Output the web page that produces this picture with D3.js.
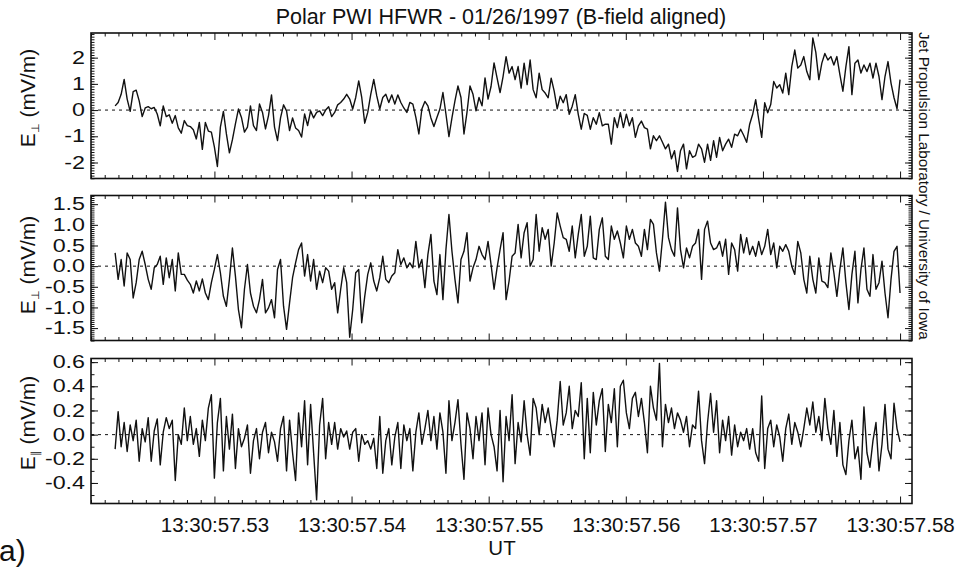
<!DOCTYPE html>
<html lang="en">
<head>
<meta charset="UTF-8">
<title>Polar PWI HFWR</title>
<style>
    body { margin: 0; background: #fff; }
    svg text { font-family: "Liberation Sans", Arial, Helvetica, sans-serif; fill: #111; }
    .frame { fill: none; stroke: #111; stroke-width: 1.6; }
    .axis line { stroke: #111; stroke-width: 1; }
    .axis .domain { display: none; }
    .trace { fill: none; stroke: #111; stroke-width: 1.4; stroke-linejoin: round; }
    .zero { stroke: #111; stroke-width: 1; stroke-dasharray: 3,4; }
</style>
</head>
<body>
<div class="g-chart-container"></div>
<script src="https://d3js.org/d3.v7.min.js"></script>
<script>
// time axis: milliseconds after 13:30:57.520 UT, one sample every tStep ms
var tStart = 2.76,
    tStep = 0.2193;

var xTickVals = [10, 20, 30, 40, 50, 60];
var xTickLabels = ["13:30:57.53", "13:30:57.54", "13:30:57.55", "13:30:57.56", "13:30:57.57", "13:30:57.58"];

// E perp (first), mV/m
var p1Values = [
    0.16, 0.29, 0.60, 1.17, 0.42, -0.05, 0.70, 0.76, 0.35, -0.25,
    0.08, 0.13, 0.05, 0.10, -0.15, -0.60, 0.16, -0.25, -0.18, -0.50,
    -0.21, -0.68, -0.88, -0.40, -0.59, -0.63, -0.75, -1.10, -0.47, -1.50,
    -0.47, -0.80, -0.84, -1.40, -2.15, -0.65, -0.05, -0.91, -1.63, -1.13,
    -0.53, 0.04, -0.28, -0.84, -0.65, 0.16, -0.59, -0.78, 0.23, -0.09,
    -0.72, -0.21, 0.58, -0.65, -1.16, -0.30, 0.20, -0.03, -0.78, -0.30,
    -0.68, -0.78, -1.03, -0.15, -0.59, -0.03, -0.30, -0.09, -0.03, -0.21,
    0.00, 0.13, -0.25, -0.09, 0.20, 0.29, 0.42, 0.60, 0.42, 0.04,
    0.48, 1.11, 0.48, -0.50, -0.09, 0.60, 1.17, 0.54, 0.04, 0.48,
    0.60, 0.29, 0.58, 0.23, 0.58, 0.29, 0.08, -0.09, 0.29, 0.23,
    -0.28, -0.91, 0.04, 0.33, 0.16, -0.30, -0.63, -0.28, 0.04, 0.67,
    -0.15, -1.01, -0.30, 0.35, 0.92, 0.48, -0.91, -0.09, 0.92, 0.60,
    -0.03, 0.48, 0.16, 1.23, 0.42, 0.90, 1.80, 1.23, 0.67,
    1.28, 2.04, 1.41, 1.66, 1.16, 1.66, 0.84, 1.79, 0.97, 1.91,
    0.78, 0.47, 1.41, 0.78, 0.65, 0.47, 1.22, 0.72, 0.05, 0.53,
    0.28, 0.59, -0.16, 0.15, 0.59, -0.16, -0.73, -0.13, -0.20, -0.73,
    -0.29, -0.54, -0.10, -0.60, -0.54, -0.54, -1.30, -0.29, -0.67, -0.10,
    -0.67, -0.16, -0.60, -0.29, -1.04, -0.60, -0.42, -0.67, -0.73, -1.48,
    -0.98, -1.17, -0.98, -1.23, -1.48, -1.30, -1.86, -1.55, -2.34, -1.55,
    -1.30, -2.24, -1.55, -1.80, -1.74, -1.30, -1.48, -1.99, -1.30, -1.92,
    -1.17, -1.80, -1.04, -1.55, -1.30, -1.11, -1.42, -0.92, -0.98, -0.73,
    -0.96, -1.23, -0.54, -0.16, 0.40, -0.35, -1.04, 0.28, -0.10, 0.21,
    1.09, 0.84, 0.97, 0.65, 1.41, 0.59, 1.66, 2.29, 1.60, 1.72,
    2.04, 1.47, 1.16, 2.75, 2.20, 1.16, 1.79, 2.16, 1.91, 2.04,
    1.72, 2.04, 1.35, 0.72, 1.66, 2.42, 0.59, 1.79, 1.91, 1.41,
    1.72, 1.47, 1.79, 1.22, 1.79, 1.28, 0.40, 1.28, 1.85, 1.03,
    0.47, 0.05, 1.16
];

// E perp (second), mV/m
var p2Values = [
    0.32, -0.32, 0.16, -0.48, 0.32, 0.16, -0.77, -0.40, 0.16, 0.36,
    0.04, -0.32, -0.56, -0.04, 0.04, 0.24, -0.44, 0.20, -0.28, 0.16,
    -0.60, 0.32, -0.20, -0.20, -0.34, -0.44, -0.65, -0.36, -0.60, -0.31,
    -0.65, -0.81, -0.40, -0.08, 0.28, -0.16, -0.73, -0.97, -0.32, 0.44,
    -0.24, -1.05, -1.49, -0.56, 0.04, -0.65, -0.97, -1.13, -0.81, -0.32,
    -1.13, -1.01, -0.81, -1.25, -0.08, 0.16, -0.97, -1.53, -0.89, -0.28,
    0.08, 0.40, 0.56, -0.24, 0.28, -0.36, 0.16, -0.56, -0.12, -0.40,
    -0.04, -0.12, -0.56, -0.40, -1.13, -0.56, -0.04, -0.40, -1.72, -1.05,
    -0.16, -0.08, -1.37, -0.73, -0.20, 0.08, -0.36, -0.60, -0.28, 0.24,
    -0.32, -0.40, -0.24, -0.16, 0.40, 0.04, 0.20, -0.04, 0.08, -0.04,
    0.60, -0.04, 0.16, -0.52, 0.28, 0.77, -0.36, -0.69, 0.28, -0.81,
    0.40, 1.25, 0.36, -0.32, -0.89, 0.16, 0.36, 0.81, -0.36, -0.04,
    0.16, 0.48, 0.28, 0.16, 0.60, 0.04, -0.56, -0.04, 0.40,
    0.81, -0.81, -0.36, 0.24, 0.32, 1.01, 0.20, 0.81, 1.05, 0.00,
    0.16, 1.25, 0.36, 0.93, 0.65, 0.89, 0.00, 0.56, 1.29, 0.97,
    0.69, 0.65, 0.36, 0.97, 0.20, 0.77, 1.25, 0.24, 0.48, 1.21,
    0.20, 0.16, 0.89, 1.17, 0.24, 0.16, 0.97, 0.65, 0.85, 0.56,
    0.20, 0.97, 0.65, 0.89, 0.56, 0.48, 0.24, 0.89, 0.40, 1.13,
    1.01, 0.32, -0.12, 0.65, 1.55, 0.69, 0.40, 0.24, 1.41, 0.40,
    -0.04, 0.44, 0.20, 0.48, 0.56, 0.89, -0.32, 0.89, 1.09, 0.56,
    0.40, 0.44, 0.60, 0.24, 0.65, -0.20, 0.56, 0.40, -0.12, 0.77,
    0.32, 0.69, 0.28, 0.48, 0.24, 0.60, 0.28, 0.48, 0.89, 0.28,
    0.56, -0.04, 0.48, 0.36, 0.52, 0.36, 0.00, -0.20, 0.60, 0.32,
    -0.32, -0.65, 0.24, -0.32, -0.65, 0.20, -0.36, -0.40, -0.52, 0.32,
    -0.16, -0.73, -0.08, 0.44, -0.40, -1.05, -0.20, 0.36, -0.89, -0.08,
    0.44, -0.56, -0.73, 0.28, -0.56, -0.40, 0.12, -0.65, -1.25, -0.32,
    0.36, 0.48, -0.65
];

// E parallel, mV/m
var p3Values = [
    -0.12, 0.19, -0.10, 0.10, -0.14, 0.08, -0.05, 0.12, -0.22, 0.05,
    -0.06, 0.14, -0.22, 0.03, 0.13, -0.25, 0.02, 0.14, 0.05, 0.12,
    -0.38, 0.00, -0.08, 0.22, -0.05, 0.15, -0.08, 0.05, -0.18, 0.12,
    -0.05, 0.22, 0.33, -0.36, 0.10, 0.30, -0.30, 0.15, -0.12, 0.17,
    -0.28, 0.05, -0.10, -0.03, 0.08, -0.32, -0.05, 0.05, -0.20, 0.02,
    0.10, -0.15, 0.02, -0.06, -0.22, 0.05, 0.15, -0.30, 0.12, -0.15,
    -0.38, 0.18, -0.10, 0.28, -0.25, 0.25, -0.15, -0.54, 0.08, 0.30,
    -0.20, 0.10, -0.08, 0.10, -0.12, 0.05, -0.02, 0.03, -0.12, 0.02,
    0.05, -0.22, 0.00, -0.08, -0.05, -0.12, -0.03, -0.28, 0.15, -0.32,
    -0.05, 0.05, -0.25, -0.02, 0.10, -0.28, 0.08, -0.05, 0.05, -0.30,
    0.02, 0.18, -0.08, 0.05, 0.20, -0.05, 0.15, -0.12, 0.18, 0.02,
    -0.32, 0.28, -0.05, 0.10, 0.29, -0.08, -0.37, 0.18, 0.05, -0.20,
    0.15, -0.05, 0.18, -0.25, 0.22, 0.00, -0.10, -0.30, 0.20,
    -0.39, 0.15, -0.05, 0.33, -0.24, 0.10, -0.06, 0.28, 0.00, -0.17,
    0.30, 0.22, 0.00, 0.25, 0.10, 0.22, 0.05, -0.10, 0.12, 0.44,
    0.08, 0.18, 0.40, 0.05, 0.20, 0.15, 0.43, -0.20, 0.30, -0.15,
    0.35, 0.08, 0.28, 0.38, -0.14, 0.25, 0.10, 0.38, -0.10, 0.40,
    0.45, 0.18, 0.05, 0.30, 0.35, 0.15, 0.30, 0.10, -0.15, 0.40,
    0.22, 0.12, 0.59, -0.10, 0.25, 0.10, 0.22, 0.05, 0.18, 0.12,
    0.02, 0.15, -0.10, 0.08, 0.05, 0.36, -0.05, -0.24, 0.10, 0.34,
    0.02, 0.28, -0.15, 0.12, -0.05, 0.15, -0.17, 0.08, -0.10, 0.02,
    -0.05, 0.05, -0.12, 0.05, -0.15, -0.22, 0.32, -0.28, 0.05, 0.12,
    -0.10, 0.08, -0.02, -0.22, 0.05, 0.17, -0.08, 0.10, 0.02, -0.10,
    0.05, 0.22, 0.08, 0.27, 0.02, 0.15, -0.05, 0.30, 0.05, -0.08,
    0.20, -0.18, 0.10, -0.25, -0.33, -0.05, 0.12, -0.20, -0.10, -0.37,
    0.23, -0.15, -0.27, -0.05, 0.10, -0.30, -0.08, 0.25, -0.12, -0.20,
    0.26, 0.05, -0.06
];

var p1TickVals = [-2, -1, 0, 1, 2];
var p1TickLabels = ["-2", "-1", "0", "1", "2"];
var p2TickVals = [-1.5, -1, -0.5, 0, 0.5, 1, 1.5];
var p2TickLabels = ["-1.5", "-1.0", "-0.5", "0.0", "0.5", "1.0", "1.5"];
var p3TickVals = [-0.4, -0.2, 0, 0.2, 0.4, 0.6];
var p3TickLabels = ["-0.4", "-0.2", "0.0", "0.2", "0.4", "0.6"];

var w = 961, h = 570,
    left = 91, right = 912;

var panels = [
    {values: p1Values, top: 33, bottom: 178.5, domain: [-2.61, 2.94],
     ticks: p1TickVals, labels: p1TickLabels, minor: d3.range(-26, 30).map(function(d) { return d / 10; }),
     sub: "\u22A5", titleY: 98},
    {values: p2Values, top: 195.5, bottom: 340.5, domain: [-1.80, 1.71],
     ticks: p2TickVals, labels: p2TickLabels, minor: d3.range(-36, 35).map(function(d) { return d / 20; }),
     sub: "\u22A5", titleY: 265},
    {values: p3Values, top: 358.5, bottom: 503.5, domain: [-0.57, 0.63],
     ticks: p3TickVals, labels: p3TickLabels, minor: d3.range(-5, 7).map(function(d) { return d / 10; }),
     sub: "\u2225", titleY: 423}
];

var svg = d3.select(".g-chart-container").append("svg")
    .attr("width", w)
    .attr("height", h);

svg.append("rect").attr("width", w).attr("height", h).attr("fill", "#fff");

var xscale = d3.scaleLinear()
    .domain([1.0, 60.87])
    .range([left, right]);

var xMinor = d3.range(1, 61).filter(function(d) { return d % 10 != 0; });

svg.append("text")
    .attr("x", 501)
    .attr("y", 24)
    .attr("text-anchor", "middle")
    .style("font-size", "21.5px")
    .text("Polar PWI HFWR - 01/26/1997 (B-field aligned)");

panels.forEach(function(p, i) {
    var yscale = d3.scaleLinear()
        .domain(p.domain)
        .range([p.bottom, p.top]);

    var g = svg.append("g");
    var last = i == panels.length - 1;

    // x ticks, bottom and top, pointing in
    var xb = d3.axisBottom(xscale).tickValues(xTickVals).tickSize(-7).tickSizeOuter(0)
        .tickPadding(14)
        .tickFormat(function(d, k) { return last ? xTickLabels[k] : ""; });
    g.append("g").attr("class", "axis").attr("transform", "translate(0," + p.bottom + ")")
        .call(xb)
        .selectAll("text").style("font-size", "20.5px").attr("fill", "#111");

    g.append("g").attr("class", "axis").attr("transform", "translate(0," + p.bottom + ")")
        .call(d3.axisBottom(xscale).tickValues(xMinor).tickSize(-3.5).tickSizeOuter(0).tickFormat(""));
    g.append("g").attr("class", "axis").attr("transform", "translate(0," + p.top + ")")
        .call(d3.axisTop(xscale).tickValues(xTickVals).tickSize(-7).tickSizeOuter(0).tickFormat(""));
    g.append("g").attr("class", "axis").attr("transform", "translate(0," + p.top + ")")
        .call(d3.axisTop(xscale).tickValues(xMinor).tickSize(-3.5).tickSizeOuter(0).tickFormat(""));

    // y ticks, left with labels (short and wide, as in the plot), right plain
    var yl = d3.axisLeft(yscale).tickValues(p.ticks).tickSize(-7).tickSizeOuter(0).tickPadding(6)
        .tickFormat(function(d, k) { return p.labels[k]; });
    g.append("g").attr("class", "axis").attr("transform", "translate(" + left + ",0)")
        .call(yl)
        .selectAll("text")
            .style("font-size", "17.5px")
            .attr("fill", "#111")
            .each(function() {
                var len = this.getComputedTextLength();
                d3.select(this).attr("textLength", len * 1.33).attr("lengthAdjust", "spacingAndGlyphs");
            });
    g.append("g").attr("class", "axis").attr("transform", "translate(" + left + ",0)")
        .call(d3.axisLeft(yscale).tickValues(p.minor).tickSize(-3.5).tickSizeOuter(0).tickFormat(""));
    g.append("g").attr("class", "axis").attr("transform", "translate(" + right + ",0)")
        .call(d3.axisRight(yscale).tickValues(p.ticks).tickSize(-7).tickSizeOuter(0).tickFormat(""));
    g.append("g").attr("class", "axis").attr("transform", "translate(" + right + ",0)")
        .call(d3.axisRight(yscale).tickValues(p.minor).tickSize(-3.5).tickSizeOuter(0).tickFormat(""));

    g.append("line")
        .attr("class", "zero")
        .attr("x1", left).attr("x2", right)
        .attr("y1", yscale(0)).attr("y2", yscale(0));

    var lineGenerator = d3.line()
        .x(function(d, k) { return xscale(tStart + k * tStep); })
        .y(function(d) { return yscale(d); });

    g.append("path")
        .datum(p.values)
        .attr("class", "trace")
        .attr("d", lineGenerator);

    g.append("rect")
        .attr("class", "frame")
        .attr("x", left)
        .attr("y", p.top)
        .attr("width", right - left)
        .attr("height", p.bottom - p.top);

    var title = g.append("text")
        .attr("transform", "translate(35," + p.titleY + ") rotate(-90)")
        .attr("text-anchor", "middle")
        .style("font-size", "21px");
    title.append("tspan").text("E");
    title.append("tspan").attr("dy", 4).style("font-size", "11px").text(p.sub);
    title.append("tspan").attr("dy", -4).text(" (mV/m)");
});

svg.append("text")
    .attr("transform", "translate(919,32) rotate(90)")
    .style("font-size", "15.3px")
    .text("Jet Propulsion Laboratory / University of Iowa");

svg.append("text")
    .attr("x", 502)
    .attr("y", 555)
    .attr("text-anchor", "middle")
    .style("font-size", "20.5px")
    .text("UT");

svg.append("text")
    .attr("x", -1)
    .attr("y", 561)
    .style("font-size", "30px")
    .text("a)");
</script>
</body>
</html>
